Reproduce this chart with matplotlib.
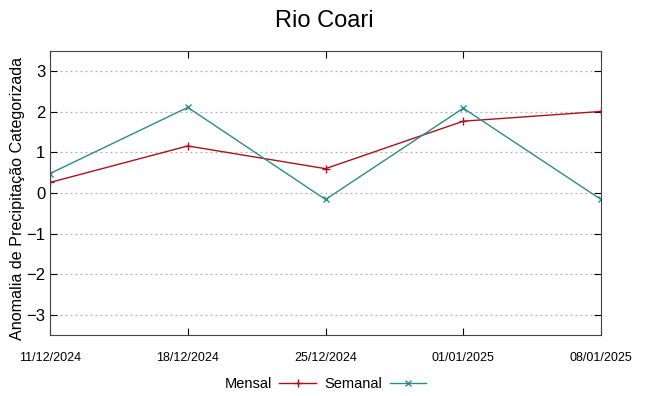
import matplotlib
matplotlib.use("Agg")
from matplotlib import pyplot as plt
import matplotlib.dates as mdates
import pandas as pd

# dados
datas = ["2024-12-11", "2024-12-18", "2024-12-25", "2025-01-01", "2025-01-08"]
mensal = [0.26, 1.16, 0.60, 1.77, 2.01]
semanal = [0.48, 2.11, -0.16, 2.09, -0.16]
yticks = [-3, -2, -1, 0, 1, 2, 3]

plt.rcParams['font.family'] = ['Liberation Sans', 'DejaVu Sans']

x = pd.to_datetime(datas)

fig = plt.figure(figsize=(6.49, 3.96), dpi=100)
ax = fig.add_axes([50/649, 61/396, 551/649, 284/396])

ax.plot(x, mensal, color='#a8141e', lw=1, marker='+', ms=6, mew=1, label='Mensal')
ax.plot(x, semanal, color='#2e8b8b', lw=1, marker='x', ms=5, mew=1, label='Semanal')

ax.set_xlim(x[0], x[-1])
ax.set_ylim(-3.5, 3.5)
ax.set_yticks(yticks)
ax.set_xticks(x)
ax.xaxis.set_major_formatter(mdates.DateFormatter('%d/%m/%Y'))
ax.tick_params(axis='y', labelsize=12, direction='in', right=True, length=5)
ax.tick_params(axis='x', labelsize=9, direction='in', top=True, length=5, pad=12)
ax.yaxis.grid(True, linestyle=(0, (1.5, 2.5)), color='#b0b0b0', lw=0.9)
for s in ax.spines.values():
    s.set_color('#444444')

ax.set_ylabel('Anomalia de Precipitação Categorizada', fontsize=11.6)
ax.yaxis.set_label_coords(-0.045, 0.482)
fig.suptitle('Rio Coari', fontsize=17, y=0.975)

ax.legend(loc='center', bbox_to_anchor=(0.5, -0.172), ncol=2, frameon=False,
          markerfirst=False, fontsize=10.5, handlelength=2.5, columnspacing=0.6,
          handletextpad=0.5)

plt.savefig('out.png', dpi=100)
